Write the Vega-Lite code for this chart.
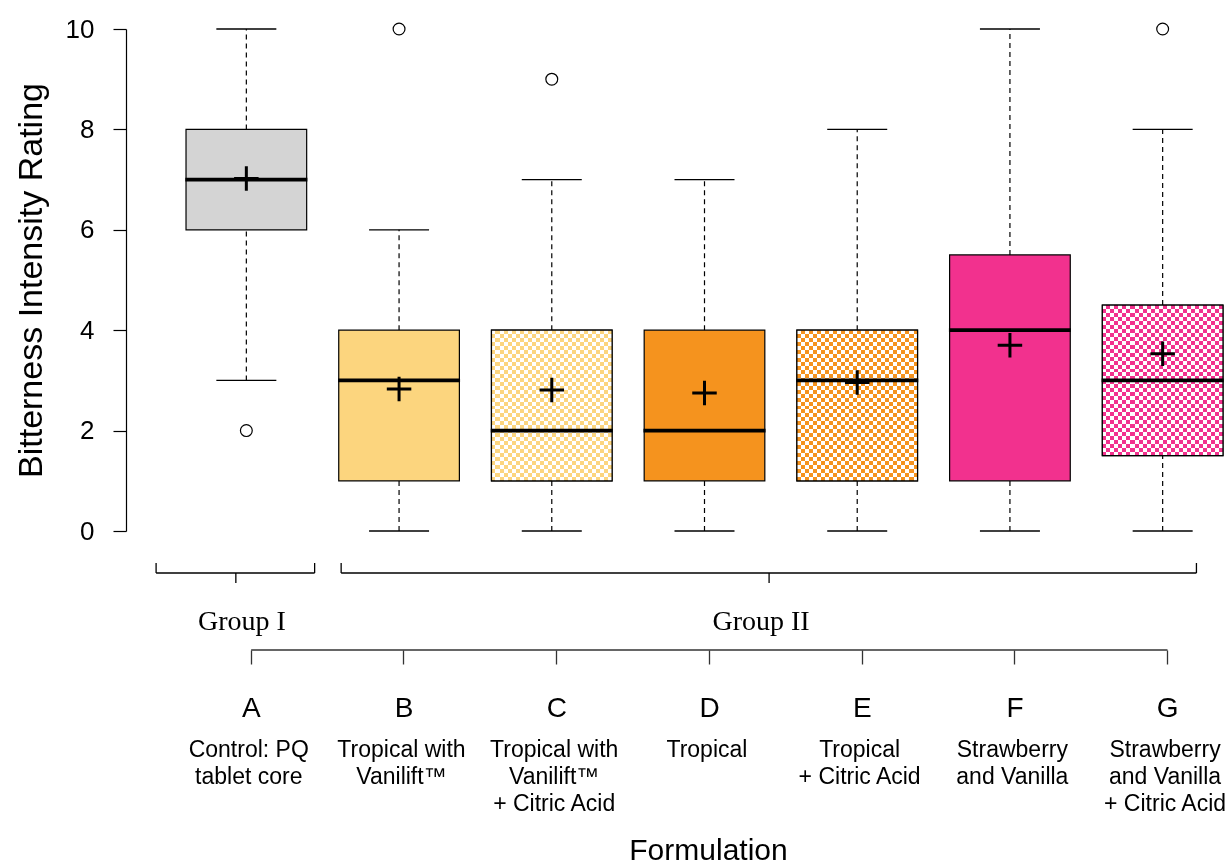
{
  "$schema": "https://vega.github.io/schema/vega-lite/v6.json",
  "padding": {"left": 14, "top": 16, "right": 0, "bottom": 0},
  "autosize": {"type": "pad"},
  "spacing": 0,
  "bounds": "flush",
  "config": {"view": {"stroke": null}, "font": "Liberation Sans"},
  "datasets": {
    "stats": [
      {"formulation": "A", "flavor": "Control", "citric": false, "lower": 3, "q1": 6, "median": 7, "q3": 8, "upper": 10, "mean": 7.02, "description": "Control: PQ\ntablet core"},
      {"formulation": "B", "flavor": "Tropical with Vanilift", "citric": false, "lower": 0, "q1": 1, "median": 3, "q3": 4, "upper": 6, "mean": 2.83, "description": "Tropical with\nVanilift™"},
      {"formulation": "C", "flavor": "Tropical with Vanilift", "citric": true, "lower": 0, "q1": 1, "median": 2, "q3": 4, "upper": 7, "mean": 2.81, "description": "Tropical with\nVanilift™\n+ Citric Acid"},
      {"formulation": "D", "flavor": "Tropical", "citric": false, "lower": 0, "q1": 1, "median": 2, "q3": 4, "upper": 7, "mean": 2.75, "description": "Tropical"},
      {"formulation": "E", "flavor": "Tropical", "citric": true, "lower": 0, "q1": 1, "median": 3, "q3": 4, "upper": 8, "mean": 2.96, "description": "Tropical\n+ Citric Acid"},
      {"formulation": "F", "flavor": "Strawberry and Vanilla", "citric": false, "lower": 0, "q1": 1, "median": 4, "q3": 5.5, "upper": 10, "mean": 3.7, "description": "Strawberry\nand Vanilla"},
      {"formulation": "G", "flavor": "Strawberry and Vanilla", "citric": true, "lower": 0, "q1": 1.5, "median": 3, "q3": 4.5, "upper": 8, "mean": 3.53, "description": "Strawberry\nand Vanilla\n+ Citric Acid"}
    ],
    "outliers": [
      {"formulation": "A", "value": 2},
      {"formulation": "B", "value": 10},
      {"formulation": "C", "value": 9},
      {"formulation": "G", "value": 10}
    ],
    "groups": [
      {"group": "Group I", "first": "A", "last": "A"},
      {"group": "Group II", "first": "B", "last": "G"}
    ]
  },
  "vconcat": [
    {
      "width": 1106,
      "height": 502,
      "data": {"name": "stats"},
      "encoding": {
        "x": {"field": "formulation", "type": "nominal", "scale": {"domain": ["A", "B", "C", "D", "E", "F", "G"], "range": [0, 1157], "paddingInner": 0.21, "paddingOuter": 0.393}, "axis": null}
      },
      "layer": [
        {
          "mark": {"type": "rule", "strokeDash": [5, 4], "strokeWidth": 1.2, "color": "black"},
          "encoding": {
            "y": {"field": "lower", "type": "quantitative", "scale": {"domain": [0, 10], "nice": false},
              "axis": {"values": [0, 2, 4, 6, 8, 10], "grid": false, "domainColor": "black", "domainWidth": 1.2, "tickColor": "black", "tickWidth": 1.2, "tickSize": 13, "labelPadding": 19, "labelFontSize": 26, "labelColor": "black", "labelFont": "Liberation Sans", "title": "Bitterness Intensity Rating", "titleFontSize": 34, "titleFont": "Liberation Sans", "titleFontWeight": "normal", "titleColor": "black", "titlePadding": 17}},
            "y2": {"field": "q1"}
          }
        },
        {
          "mark": {"type": "rule", "strokeDash": [5, 4], "strokeWidth": 1.2, "color": "black"},
          "encoding": {"y": {"field": "q3", "type": "quantitative"}, "y2": {"field": "upper"}}
        },
        {
          "mark": {"type": "tick", "size": 60, "thickness": 1.3, "color": "black", "opacity": 1},
          "encoding": {"y": {"field": "lower", "type": "quantitative"}}
        },
        {
          "mark": {"type": "tick", "size": 60, "thickness": 1.3, "color": "black", "opacity": 1},
          "encoding": {"y": {"field": "upper", "type": "quantitative"}}
        },
        {
          "mark": {"type": "bar", "stroke": "black", "strokeWidth": 1.2, "opacity": 1},
          "encoding": {
            "y": {"field": "q1", "type": "quantitative"}, "y2": {"field": "q3"},
            "color": {"field": "flavor", "type": "nominal", "scale": {"domain": ["Control", "Tropical with Vanilift", "Tropical", "Strawberry and Vanilla"], "range": ["#d4d4d4", "#fcd57e", "#f5931e", "#f2318e"]}, "legend": null}
          }
        },
        {
          "transform": [{"filter": "datum.citric"}],
          "mark": {"type": "bar", "opacity": 1, "fill": {"gradient": "linear", "x1": 0, "y1": 0, "x2": 1, "y2": 0, "stops": [
            {"offset": 0, "color": "#000"},
            {"offset": 0.0333, "color": "#000"}, {"offset": 0.0333, "color": "#fff"},
            {"offset": 0.0667, "color": "#fff"}, {"offset": 0.0667, "color": "#000"},
            {"offset": 0.1, "color": "#000"}, {"offset": 0.1, "color": "#fff"},
            {"offset": 0.1333, "color": "#fff"}, {"offset": 0.1333, "color": "#000"},
            {"offset": 0.1667, "color": "#000"}, {"offset": 0.1667, "color": "#fff"},
            {"offset": 0.2, "color": "#fff"}, {"offset": 0.2, "color": "#000"},
            {"offset": 0.2333, "color": "#000"}, {"offset": 0.2333, "color": "#fff"},
            {"offset": 0.2667, "color": "#fff"}, {"offset": 0.2667, "color": "#000"},
            {"offset": 0.3, "color": "#000"}, {"offset": 0.3, "color": "#fff"},
            {"offset": 0.3333, "color": "#fff"}, {"offset": 0.3333, "color": "#000"},
            {"offset": 0.3667, "color": "#000"}, {"offset": 0.3667, "color": "#fff"},
            {"offset": 0.4, "color": "#fff"}, {"offset": 0.4, "color": "#000"},
            {"offset": 0.4333, "color": "#000"}, {"offset": 0.4333, "color": "#fff"},
            {"offset": 0.4667, "color": "#fff"}, {"offset": 0.4667, "color": "#000"},
            {"offset": 0.5, "color": "#000"}, {"offset": 0.5, "color": "#fff"},
            {"offset": 0.5333, "color": "#fff"}, {"offset": 0.5333, "color": "#000"},
            {"offset": 0.5667, "color": "#000"}, {"offset": 0.5667, "color": "#fff"},
            {"offset": 0.6, "color": "#fff"}, {"offset": 0.6, "color": "#000"},
            {"offset": 0.6333, "color": "#000"}, {"offset": 0.6333, "color": "#fff"},
            {"offset": 0.6667, "color": "#fff"}, {"offset": 0.6667, "color": "#000"},
            {"offset": 0.7, "color": "#000"}, {"offset": 0.7, "color": "#fff"},
            {"offset": 0.7333, "color": "#fff"}, {"offset": 0.7333, "color": "#000"},
            {"offset": 0.7667, "color": "#000"}, {"offset": 0.7667, "color": "#fff"},
            {"offset": 0.8, "color": "#fff"}, {"offset": 0.8, "color": "#000"},
            {"offset": 0.8333, "color": "#000"}, {"offset": 0.8333, "color": "#fff"},
            {"offset": 0.8667, "color": "#fff"}, {"offset": 0.8667, "color": "#000"},
            {"offset": 0.9, "color": "#000"}, {"offset": 0.9, "color": "#fff"},
            {"offset": 0.9333, "color": "#fff"}, {"offset": 0.9333, "color": "#000"},
            {"offset": 0.9667, "color": "#000"}, {"offset": 0.9667, "color": "#fff"},
            {"offset": 1, "color": "#fff"}
          ]}},
          "encoding": {"y": {"field": "q1", "type": "quantitative"}, "y2": {"field": "q3"}}
        },
        {
          "transform": [{"filter": "datum.citric"}],
          "mark": {"type": "bar", "opacity": 1, "blend": "difference", "fill": {"gradient": "linear", "x1": 0, "y1": 0, "x2": 0, "y2": 1, "stops": [
            {"offset": 0, "color": "#fff"},
            {"offset": 0.0263, "color": "#fff"}, {"offset": 0.0263, "color": "#000"},
            {"offset": 0.0526, "color": "#000"}, {"offset": 0.0526, "color": "#fff"},
            {"offset": 0.0789, "color": "#fff"}, {"offset": 0.0789, "color": "#000"},
            {"offset": 0.1053, "color": "#000"}, {"offset": 0.1053, "color": "#fff"},
            {"offset": 0.1316, "color": "#fff"}, {"offset": 0.1316, "color": "#000"},
            {"offset": 0.1579, "color": "#000"}, {"offset": 0.1579, "color": "#fff"},
            {"offset": 0.1842, "color": "#fff"}, {"offset": 0.1842, "color": "#000"},
            {"offset": 0.2105, "color": "#000"}, {"offset": 0.2105, "color": "#fff"},
            {"offset": 0.2368, "color": "#fff"}, {"offset": 0.2368, "color": "#000"},
            {"offset": 0.2632, "color": "#000"}, {"offset": 0.2632, "color": "#fff"},
            {"offset": 0.2895, "color": "#fff"}, {"offset": 0.2895, "color": "#000"},
            {"offset": 0.3158, "color": "#000"}, {"offset": 0.3158, "color": "#fff"},
            {"offset": 0.3421, "color": "#fff"}, {"offset": 0.3421, "color": "#000"},
            {"offset": 0.3684, "color": "#000"}, {"offset": 0.3684, "color": "#fff"},
            {"offset": 0.3947, "color": "#fff"}, {"offset": 0.3947, "color": "#000"},
            {"offset": 0.4211, "color": "#000"}, {"offset": 0.4211, "color": "#fff"},
            {"offset": 0.4474, "color": "#fff"}, {"offset": 0.4474, "color": "#000"},
            {"offset": 0.4737, "color": "#000"}, {"offset": 0.4737, "color": "#fff"},
            {"offset": 0.5, "color": "#fff"}, {"offset": 0.5, "color": "#000"},
            {"offset": 0.5263, "color": "#000"}, {"offset": 0.5263, "color": "#fff"},
            {"offset": 0.5526, "color": "#fff"}, {"offset": 0.5526, "color": "#000"},
            {"offset": 0.5789, "color": "#000"}, {"offset": 0.5789, "color": "#fff"},
            {"offset": 0.6053, "color": "#fff"}, {"offset": 0.6053, "color": "#000"},
            {"offset": 0.6316, "color": "#000"}, {"offset": 0.6316, "color": "#fff"},
            {"offset": 0.6579, "color": "#fff"}, {"offset": 0.6579, "color": "#000"},
            {"offset": 0.6842, "color": "#000"}, {"offset": 0.6842, "color": "#fff"},
            {"offset": 0.7105, "color": "#fff"}, {"offset": 0.7105, "color": "#000"},
            {"offset": 0.7368, "color": "#000"}, {"offset": 0.7368, "color": "#fff"},
            {"offset": 0.7632, "color": "#fff"}, {"offset": 0.7632, "color": "#000"},
            {"offset": 0.7895, "color": "#000"}, {"offset": 0.7895, "color": "#fff"},
            {"offset": 0.8158, "color": "#fff"}, {"offset": 0.8158, "color": "#000"},
            {"offset": 0.8421, "color": "#000"}, {"offset": 0.8421, "color": "#fff"},
            {"offset": 0.8684, "color": "#fff"}, {"offset": 0.8684, "color": "#000"},
            {"offset": 0.8947, "color": "#000"}, {"offset": 0.8947, "color": "#fff"},
            {"offset": 0.9211, "color": "#fff"}, {"offset": 0.9211, "color": "#000"},
            {"offset": 0.9474, "color": "#000"}, {"offset": 0.9474, "color": "#fff"},
            {"offset": 0.9737, "color": "#fff"}, {"offset": 0.9737, "color": "#000"},
            {"offset": 1, "color": "#000"}
          ]}},
          "encoding": {"y": {"field": "q1", "type": "quantitative"}, "y2": {"field": "q3"}}
        },
        {
          "transform": [{"filter": "datum.citric"}],
          "mark": {"type": "bar", "opacity": 1, "blend": "screen"},
          "encoding": {
            "y": {"field": "q1", "type": "quantitative"}, "y2": {"field": "q3"},
            "color": {"field": "flavor", "type": "nominal", "legend": null}
          }
        },
        {
          "transform": [{"filter": "datum.citric"}],
          "mark": {"type": "bar", "fillOpacity": 0, "fill": "white", "stroke": "black", "strokeWidth": 1.2},
          "encoding": {"y": {"field": "q1", "type": "quantitative"}, "y2": {"field": "q3"}}
        },
        {
          "mark": {"type": "tick", "size": 122, "thickness": 3.8, "color": "black", "opacity": 1},
          "encoding": {"y": {"field": "median", "type": "quantitative"}}
        },
        {
          "mark": {"type": "point", "shape": "M-1,0H1M0,-1V1", "size": 600, "filled": false, "stroke": "black", "strokeWidth": 3, "opacity": 1},
          "encoding": {"y": {"field": "mean", "type": "quantitative"}}
        },
        {
          "data": {"name": "outliers"},
          "mark": {"type": "point", "shape": "circle", "size": 140, "filled": false, "stroke": "black", "strokeWidth": 1.2, "opacity": 1},
          "encoding": {"y": {"field": "value", "type": "quantitative"}}
        }
      ]
    },
    {
      "width": 1106,
      "height": 336,
      "layer": [
        {
          "data": {"name": "stats"},
          "mark": {"type": "text", "fontSize": 23, "font": "Liberation Sans", "color": "black", "align": "center", "baseline": "alphabetic", "lineBreak": "\n", "lineHeight": 27},
          "encoding": {
            "x": {"field": "formulation", "type": "nominal", "bandPosition": 0.52,
              "scale": {"domain": ["A", "B", "C", "D", "E", "F", "G"], "range": [0, 1157], "paddingInner": 0.21, "paddingOuter": 0.393},
              "axis": {"orient": "bottom", "offset": -217, "domain": false, "grid": false, "ticks": true, "tickSize": 14, "tickColor": "#333", "tickWidth": 1.3, "bandPosition": 0.54, "labelOffset": 5, "labelFontSize": 28, "labelFont": "Liberation Sans", "labelColor": "black", "labelPadding": 30, "labelAngle": 0, "title": "Formulation", "titleFontSize": 30, "titleFont": "Liberation Sans", "titleFontWeight": "normal", "titleColor": "black", "titleX": 582, "titleY": 209, "titleBaseline": "alphabetic"}},
            "y": {"datum": 226, "type": "quantitative", "scale": {"domain": [0, 336], "reverse": true, "nice": false}, "axis": null},
            "text": {"field": "description"}
          }
        },
        {
          "data": {"values": [{}]},
          "mark": {"type": "rule", "color": "#333", "strokeWidth": 1.3},
          "encoding": {
            "x": {"datum": "A", "bandPosition": 0.54},
            "x2": {"datum": "G", "bandPosition": 0.54},
            "y": {"datum": 119, "type": "quantitative"}
          }
        },
        {
          "data": {"name": "groups"},
          "transform": [{"filter": "datum.group === 'Group I'"}],
          "layer": [
            {
              "mark": {"type": "rule", "color": "black", "strokeWidth": 1.3},
              "encoding": {"x": {"field": "first", "type": "nominal", "bandPosition": -0.248}, "x2": {"field": "last", "bandPosition": 1.066}, "y": {"datum": 42, "type": "quantitative"}}
            },
            {
              "mark": {"type": "rule", "color": "black", "strokeWidth": 1.3},
              "encoding": {"x": {"field": "first", "type": "nominal", "bandPosition": -0.248}, "y": {"datum": 32, "type": "quantitative"}, "y2": {"datum": 42}}
            },
            {
              "mark": {"type": "rule", "color": "black", "strokeWidth": 1.3},
              "encoding": {"x": {"field": "last", "type": "nominal", "bandPosition": 1.066}, "y": {"datum": 32, "type": "quantitative"}, "y2": {"datum": 42}}
            },
            {
              "mark": {"type": "rule", "color": "black", "strokeWidth": 1.3},
              "encoding": {"x": {"field": "first", "type": "nominal", "bandPosition": 0.413}, "y": {"datum": 42, "type": "quantitative"}, "y2": {"datum": 52}}
            },
            {
              "mark": {"type": "text", "fontSize": 28, "font": "Liberation Serif", "color": "black", "align": "center", "baseline": "alphabetic"},
              "encoding": {"x": {"field": "first", "type": "nominal", "bandPosition": 0.463}, "y": {"datum": 99, "type": "quantitative"}, "text": {"field": "group"}}
            }
          ]
        },
        {
          "data": {"name": "groups"},
          "transform": [{"filter": "datum.group === 'Group II'"}],
          "layer": [
            {
              "mark": {"type": "rule", "color": "black", "strokeWidth": 1.3},
              "encoding": {"x": {"field": "first", "type": "nominal", "bandPosition": 0.02}, "x2": {"field": "last", "bandPosition": 0.78}, "y": {"datum": 42, "type": "quantitative"}}
            },
            {
              "mark": {"type": "rule", "color": "black", "strokeWidth": 1.3},
              "encoding": {"x": {"field": "first", "type": "nominal", "bandPosition": 0.02}, "y": {"datum": 32, "type": "quantitative"}, "y2": {"datum": 42}}
            },
            {
              "mark": {"type": "rule", "color": "black", "strokeWidth": 1.3},
              "encoding": {"x": {"field": "last", "type": "nominal", "bandPosition": 0.78}, "y": {"datum": 32, "type": "quantitative"}, "y2": {"datum": 42}}
            },
            {
              "mark": {"type": "rule", "color": "black", "strokeWidth": 1.3},
              "encoding": {"x": {"field": "first", "type": "nominal", "bandPosition": 3.567}, "y": {"datum": 42, "type": "quantitative"}, "y2": {"datum": 52}}
            },
            {
              "mark": {"type": "text", "fontSize": 28, "font": "Liberation Serif", "color": "black", "align": "center", "baseline": "alphabetic"},
              "encoding": {"x": {"field": "first", "type": "nominal", "bandPosition": 3.5}, "y": {"datum": 99, "type": "quantitative"}, "text": {"field": "group"}}
            }
          ]
        }
      ]
    }
  ]
}
